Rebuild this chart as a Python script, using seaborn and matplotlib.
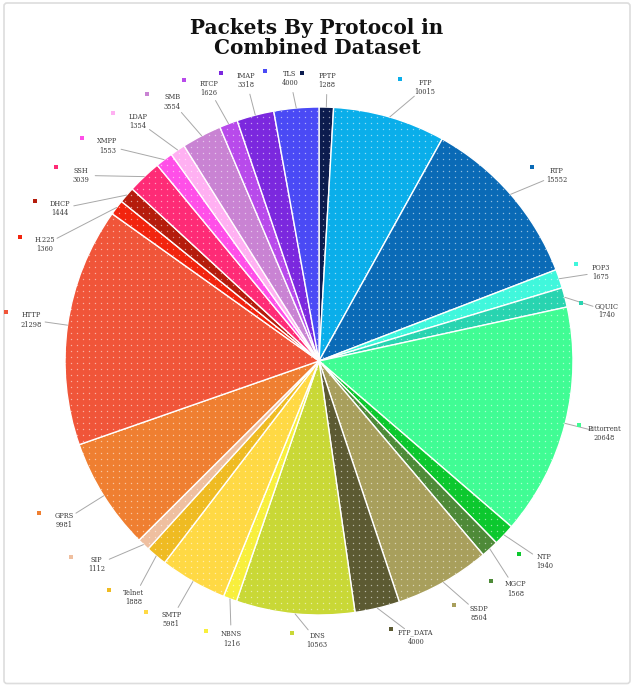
import numpy as np
import matplotlib
matplotlib.use("Agg")
import matplotlib.pyplot as plt
import seaborn as sns
from matplotlib.patches import Circle, FancyBboxPatch

# Packet counts per protocol, listed clockwise from 12 o'clock
protocols = ["PPTP", "FTP", "RTP", "POP3", "GQUIC", "Bittorrent", "NTP", "MGCP",
             "SSDP", "FTP_DATA", "DNS", "NBNS", "SMTP", "Telnet", "SIP", "GPRS",
             "HTTP", "H.225", "DHCP", "SSH", "XMPP", "LDAP", "SMB", "RTCP",
             "IMAP", "TLS"]
packets = [1288, 10015, 15552, 1675, 1740, 20648, 1940, 1568,
           8504, 4000, 10563, 1216, 5981, 1888, 1112, 9981,
           21298, 1360, 1444, 3039, 1553, 1354, 3554, 1626,
           3318, 4000]
slice_colors = ["#0c1c4e", "#0aaeea", "#0a6ab6", "#40f7dc", "#28d4b0", "#40fc94",
                "#0cc82e", "#4e8a38", "#a89f5c", "#5c5a32", "#c9d836", "#f8ef3c",
                "#ffd944", "#efbb22", "#efbf9f", "#ef7f31", "#f05539", "#f2240e",
                "#b51c0c", "#fe2b76", "#ff4fe8", "#ffb0f2", "#c983d3", "#b84aeb",
                "#7b28de", "#4a4af5"]

# small angular nudges (degrees) that ease labels toward the sides
label_nudge = {"FTP": 5, "RTP": 3, "POP3": 3, "GQUIC": 3, "SSDP": -3,
               "FTP_DATA": -6, "DNS": -5, "NBNS": -3, "SIP": 2}

W, H = 634, 686
CX, CY, R = 319, H - 361, 254

sns.set_theme(style="white")
plt.rcParams["font.family"] = ["DejaVu Serif", "DejaVu Sans"]

fig = plt.figure(figsize=(W / 100, H / 100), dpi=100)
ax = fig.add_axes([0, 0, 1, 1])
palette = sns.color_palette(slice_colors)

wedges, _ = ax.pie(packets, colors=palette, startangle=90, counterclock=False,
                   center=(CX, CY), radius=R,
                   wedgeprops=dict(edgecolor="white", linewidth=1.0))
ax.set_xlim(0, W)
ax.set_ylim(0, H)
ax.set_aspect("equal")
ax.axis("off")

# dotted texture over the pie
gx, gy = np.meshgrid(np.arange(CX - R, CX + R + 1, 6.0),
                     np.arange(CY - R, CY + R + 1, 6.0))
dots = ax.scatter(gx.ravel(), gy.ravel(), s=1.0, c="white", alpha=0.55,
                  linewidths=0, zorder=3)
dots.set_clip_path(Circle((CX, CY), R, transform=ax.transData))

# label angles (degrees clockwise from top), spread apart where crowded;
# in the upper-left quarter labels only give way counter-clockwise
vals = np.array(packets, dtype=float)
cum = np.cumsum(vals)
mid = 360.0 * (cum - vals / 2) / vals.sum()
ang = mid.copy()
MIN_SEP = 7.5
n = len(ang)
for _ in range(400):
    for i in range(n):
        j = (i + 1) % n
        gap = (ang[j] - ang[i]) % 360
        if gap < MIN_SEP:
            push = MIN_SEP - gap
            if ang[i] % 360 > 270:
                ang[i] -= push * 0.5
            else:
                ang[i] -= push * 0.25
                ang[j] += push * 0.25
ang = ang + np.array([label_nudge.get(p, 0) for p in protocols])

for name, val, col, m, a in zip(protocols, packets, palette, mid, ang):
    t = np.radians(a)
    tm = np.radians(m)
    r = R * (1.10 + 0.025 * abs(np.sin(t)) + 0.07 * abs(np.sin(2 * t)))
    tx, ty = CX + r * np.sin(t), CY + r * np.cos(t)
    ex, ey = CX + R * np.sin(tm), CY + R * np.cos(tm)
    d = np.hypot(ex - tx, ey - ty)
    lx, ly = tx + 14 * (ex - tx) / d, ty + 14 * (ey - ty) / d
    ax.plot([ex, lx], [ey, ly], color="#a8a8a8", lw=0.7, zorder=2)
    ax.text(tx, ty, f"{name}\n{val}", ha="center", va="center", fontsize=4.8,
            color="#3a3a3a", linespacing=1.2, zorder=5)
    ax.scatter([tx - 25], [ty + 8], marker="s", s=6, color=col, linewidths=0,
               zorder=5)

ax.text(317, H - 38, "Packets By Protocol in\nCombined Dataset", ha="center",
        va="center", fontsize=14.4, fontweight="bold", color="#111111",
        linespacing=1.05, family=["DejaVu Serif"])

ax.add_patch(FancyBboxPatch((4, 2.5), 626, 680.5,
                            boxstyle="round,pad=0,rounding_size=3",
                            fill=False, edgecolor="#dddddd", lw=1.2, zorder=1))

fig.savefig("out.png", dpi=100)
